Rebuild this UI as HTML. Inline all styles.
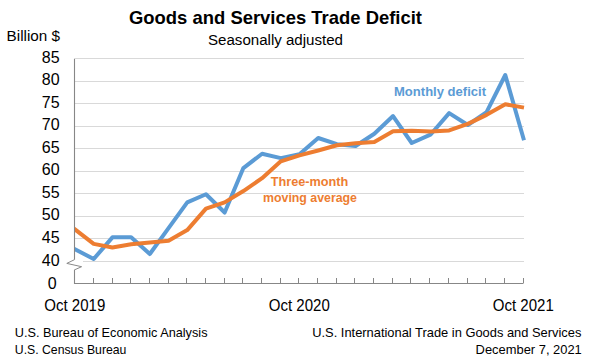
<!DOCTYPE html>
<html><head><meta charset="utf-8">
<style>
html,body{margin:0;padding:0;background:#fff;}
body{width:599px;height:364px;overflow:hidden;}
svg{display:block;}
text{font-family:"Liberation Sans",sans-serif;}
</style></head>
<body>
<svg width="599" height="364" viewBox="0 0 599 364">
<rect width="599" height="364" fill="#fff"/>
<defs><clipPath id="pa"><rect x="74" y="0" width="460" height="300"/></clipPath></defs>
<!-- gridlines -->
<g stroke="#d9d9d9" stroke-width="1" shape-rendering="crispEdges">
<line x1="74" y1="58.5" x2="524" y2="58.5"/>
<line x1="74" y1="81.5" x2="524" y2="81.5"/>
<line x1="74" y1="103.5" x2="524" y2="103.5"/>
<line x1="74" y1="126.5" x2="524" y2="126.5"/>
<line x1="74" y1="148.5" x2="524" y2="148.5"/>
<line x1="74" y1="171.5" x2="524" y2="171.5"/>
<line x1="74" y1="193.5" x2="524" y2="193.5"/>
<line x1="74" y1="216.5" x2="524" y2="216.5"/>
<line x1="74" y1="238.5" x2="524" y2="238.5"/>
<line x1="83" y1="261.5" x2="524" y2="261.5"/>
</g>
<!-- series -->
<polyline fill="none" stroke="#5b9bd5" stroke-width="4" stroke-linejoin="round" stroke-linecap="butt" clip-path="url(#pa)"
 points="72.00,247.71 75.00,249.27 93.71,259.02 112.42,237.32 131.12,237.32 149.83,254.01 168.54,228.07 187.25,202.36 205.96,194.24 224.66,212.51 243.37,168.07 262.08,153.73 280.79,158.15 299.50,154.31 318.20,137.99 336.91,144.17 355.62,145.97 374.33,133.79 393.04,116.02 411.74,142.99 430.45,134.69 449.16,113.08 467.87,124.99 486.58,112.14 505.28,75.01 523.99,140.20"/>
<polyline fill="none" stroke="#ed7d31" stroke-width="4" stroke-linejoin="round" stroke-linecap="butt" clip-path="url(#pa)"
 points="72.00,227.11 75.00,229.42 93.71,243.86 112.42,247.47 131.12,244.31 149.83,242.50 168.54,240.70 187.25,230.10 205.96,208.67 224.66,202.36 243.37,191.08 262.08,178.18 280.79,161.31 299.50,155.44 318.20,150.48 336.91,145.29 355.62,143.26 374.33,141.91 393.04,131.31 411.74,130.63 430.45,131.53 449.16,130.41 467.87,123.87 486.58,114.84 505.28,104.24 523.99,107.63"/>
<!-- axes -->
<g stroke="#878787" stroke-width="1.1" fill="none">
<polyline points="74.5,59 74.5,259.7"/>
<polyline points="74.5,270 74.5,283.5 523.5,283.5"/>
</g>
<g stroke="#868686" stroke-width="1" shape-rendering="crispEdges">
<line x1="93.5" y1="278" x2="93.5" y2="283"/>
<line x1="112.5" y1="278" x2="112.5" y2="283"/>
<line x1="130.5" y1="278" x2="130.5" y2="283"/>
<line x1="149.5" y1="278" x2="149.5" y2="283"/>
<line x1="168.5" y1="278" x2="168.5" y2="283"/>
<line x1="186.5" y1="278" x2="186.5" y2="283"/>
<line x1="205.5" y1="278" x2="205.5" y2="283"/>
<line x1="224.5" y1="278" x2="224.5" y2="283"/>
<line x1="242.5" y1="278" x2="242.5" y2="283"/>
<line x1="261.5" y1="278" x2="261.5" y2="283"/>
<line x1="280.5" y1="278" x2="280.5" y2="283"/>
<line x1="298.5" y1="278" x2="298.5" y2="283"/>
<line x1="317.5" y1="278" x2="317.5" y2="283"/>
<line x1="336.5" y1="278" x2="336.5" y2="283"/>
<line x1="354.5" y1="278" x2="354.5" y2="283"/>
<line x1="373.5" y1="278" x2="373.5" y2="283"/>
<line x1="392.5" y1="278" x2="392.5" y2="283"/>
<line x1="410.5" y1="278" x2="410.5" y2="283"/>
<line x1="429.5" y1="278" x2="429.5" y2="283"/>
<line x1="448.5" y1="278" x2="448.5" y2="283"/>
<line x1="467.5" y1="278" x2="467.5" y2="283"/>
<line x1="485.5" y1="278" x2="485.5" y2="283"/>
<line x1="504.5" y1="278" x2="504.5" y2="283"/>
<line x1="523.5" y1="278" x2="523.5" y2="283"/>
</g>
<!-- axis break -->
<polyline points="74.4,259.7 66.8,263.4 81.6,266.7 74.2,270" fill="none" stroke="#8a8a8a" stroke-width="1"/>
<!-- title -->
<text x="129" y="23.6" font-size="19" font-weight="bold" fill="#000" textLength="293" lengthAdjust="spacingAndGlyphs">Goods and Services Trade Deficit</text>
<text x="208" y="44.5" font-size="15.3" fill="#000" textLength="135" lengthAdjust="spacingAndGlyphs">Seasonally adjusted</text>
<text x="6.6" y="40.7" font-size="15.5" fill="#000" textLength="53.5" lengthAdjust="spacingAndGlyphs">Billion $</text>
<!-- y labels -->
<g font-size="16" fill="#000" text-anchor="end">
<text x="59.6" y="62.5">85</text>
<text x="59.6" y="85.1">80</text>
<text x="59.6" y="107.6">75</text>
<text x="59.6" y="130.2">70</text>
<text x="59.6" y="152.7">65</text>
<text x="59.6" y="175.3">60</text>
<text x="59.6" y="197.9">55</text>
<text x="59.6" y="220.4">50</text>
<text x="59.6" y="243.0">45</text>
<text x="59.6" y="265.5">40</text>
</g>
<text x="47.8" y="289.3" font-size="16" fill="#000">0</text>
<!-- x labels -->
<g font-size="15.6" fill="#000">
<text x="44.3" y="311.1" textLength="61" lengthAdjust="spacingAndGlyphs">Oct 2019</text>
<text x="268.8" y="311.1" textLength="61" lengthAdjust="spacingAndGlyphs">Oct 2020</text>
<text x="492.8" y="311.1" textLength="61" lengthAdjust="spacingAndGlyphs">Oct 2021</text>
</g>
<!-- annotations -->
<text x="394" y="95.9" font-size="13.4" font-weight="bold" fill="#5b9bd5" textLength="92" lengthAdjust="spacingAndGlyphs">Monthly deficit</text>
<text x="270.8" y="185.9" font-size="12.9" font-weight="bold" fill="#ed7d31" textLength="77.5" lengthAdjust="spacingAndGlyphs">Three-month</text>
<text x="263" y="202.3" font-size="12.4" font-weight="bold" fill="#ed7d31" textLength="94" lengthAdjust="spacingAndGlyphs">moving average</text>
<!-- footer -->
<g font-size="12.8" fill="#000">
<text x="14.8" y="336.8" textLength="192.7" lengthAdjust="spacingAndGlyphs">U.S. Bureau of Economic Analysis</text>
<text x="14.8" y="353.9" textLength="111.6" lengthAdjust="spacingAndGlyphs">U.S. Census Bureau</text>
<text x="312.2" y="336.8" textLength="269.2" lengthAdjust="spacingAndGlyphs">U.S. International Trade in Goods and Services</text>
<text x="475.6" y="353.8" textLength="106.2" lengthAdjust="spacingAndGlyphs">December 7, 2021</text>
</g>
</svg>
</body></html>
